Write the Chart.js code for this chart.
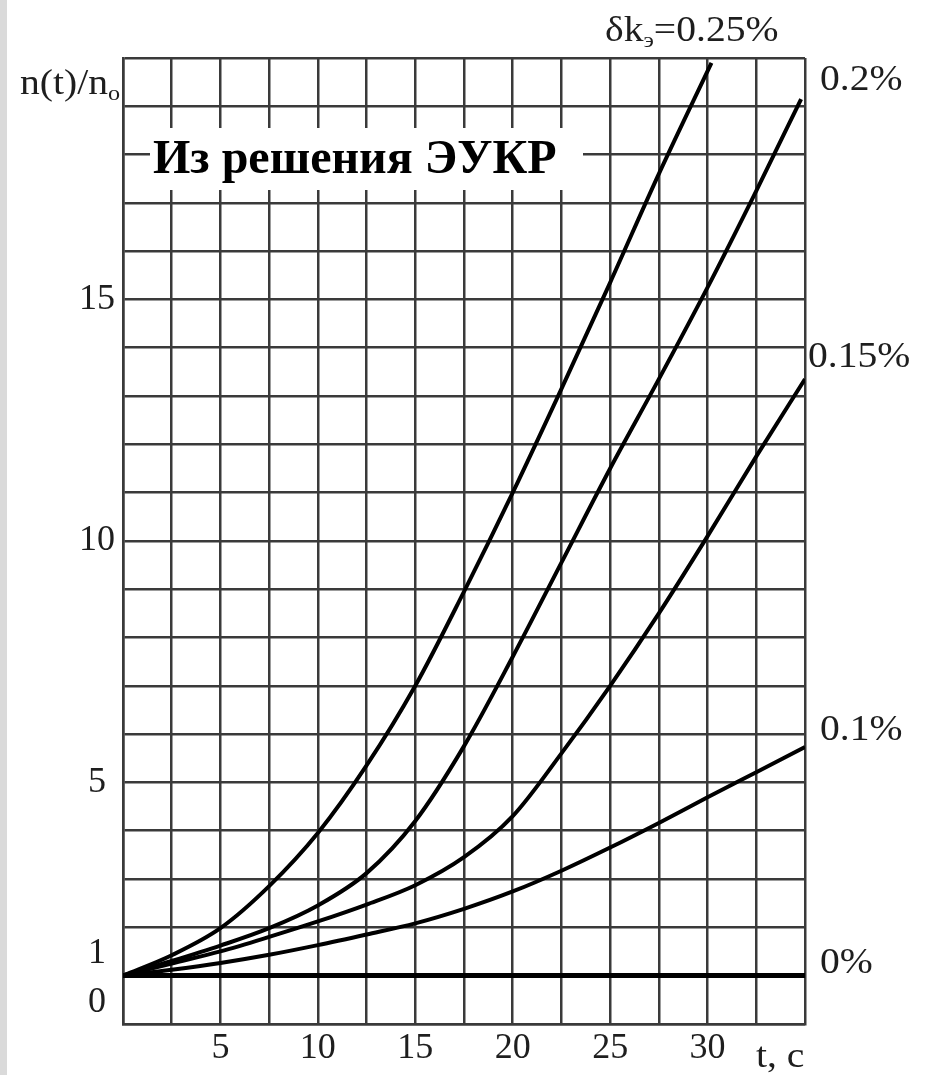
<!DOCTYPE html>
<html lang="ru">
<head>
<meta charset="utf-8">
<title>n(t)/n0</title>
<script src="https://cdn.jsdelivr.net/npm/chart.js@4.4.1/dist/chart.umd.min.js"></script>
<style>
    html, body { margin: 0; padding: 0; background: #fff; }
    #grafico { display: block; }
</style>
</head>
<body>
<canvas id="grafico" width="930" height="1075"></canvas>
<script>
// tempo, s
var tempoCompleto = [0, 2.5, 5, 7.5, 10, 12.5, 15, 17.5, 20, 22.5, 25, 27.5, 30, 32.5, 35];
var tempo025 = [0, 2.5, 5, 7.5, 10, 12.5, 15, 17.5, 20, 22.5, 25, 27.5, 30.2];
var tempo020 = [0, 2.5, 5, 7.5, 10, 12.5, 15, 17.5, 20, 22.5, 25, 27.5, 30, 32.5, 34.8];

// n(t)/n0 para cada degrau de reatividade
var n025 = [1, 1.42, 1.98, 2.85, 3.95, 5.35, 7.0, 8.95, 11.0, 13.15, 15.35, 17.6, 19.9];
var n020 = [1, 1.3, 1.62, 1.98, 2.45, 3.12, 4.2, 5.75, 7.6, 9.55, 11.5, 13.35, 15.25, 17.25, 19.15];
var n015 = [1, 1.25, 1.5, 1.8, 2.12, 2.47, 2.87, 3.45, 4.3, 5.6, 7.0, 8.5, 10.1, 11.75, 13.35];
var n010 = [1, 1.12, 1.26, 1.43, 1.63, 1.85, 2.08, 2.38, 2.74, 3.17, 3.65, 4.16, 4.69, 5.21, 5.73];
var n000 = [1, 1, 1, 1, 1, 1, 1, 1, 1, 1, 1, 1, 1, 1, 1];

var rotulosX = [5, 10, 15, 20, 25, 30];
var rotulosY = [0, 1, 5, 10, 15];

var fonteSerif = "'Liberation Serif', 'Times New Roman', serif";
var corTexto = "#1e1e1e";
var corGrade = "#3a3a3a";

function pontos(tempos, valores) {
    var lista = [];
    for (var i = 0; i < tempos.length; i++) {
        lista.push({ x: tempos[i], y: valores[i] });
    }
    return lista;
}

function curva(tempos, valores, espessura) {
    return {
        data: pontos(tempos, valores),
        borderColor: "#000",
        borderWidth: espessura,
        pointRadius: 0,
        fill: false,
        cubicInterpolationMode: "monotone"
    };
}

// texto com pedaços subscritos, levemente alargado como no original impresso
function textoComIndice(ctx, partes, x, y, tamanho) {
    ctx.save();
    ctx.translate(x, y);
    ctx.scale(1.1, 1);
    var cursor = 0;
    for (var i = 0; i < partes.length; i++) {
        var parte = partes[i];
        if (parte.sub) {
            ctx.font = Math.round(tamanho * 0.6) + "px " + fonteSerif;
            ctx.fillText(parte.texto, cursor, tamanho * 0.18);
        } else {
            ctx.font = tamanho + "px " + fonteSerif;
            ctx.fillText(parte.texto, cursor, 0);
        }
        cursor += ctx.measureText(parte.texto).width;
    }
    ctx.restore();
}

var anotacoes = {
    id: "anotacoes",
    beforeDraw: function (chart) {
        var ctx = chart.ctx;
        ctx.save();
        ctx.fillStyle = "#fff";
        ctx.fillRect(0, 0, chart.width, chart.height);
        ctx.fillStyle = "#dadada";
        ctx.fillRect(0, 0, 7, chart.height);
        ctx.restore();
    },
    afterDraw: function (chart) {
        var ctx = chart.ctx;
        var area = chart.chartArea;
        var esq = area.right + 15;
        ctx.save();
        ctx.textBaseline = "alphabetic";
        ctx.textAlign = "left";

        // caixa branca do título por cima da grade
        ctx.fillStyle = "#fff";
        ctx.fillRect(150, 128, 433, 62);
        ctx.fillStyle = "#000";
        ctx.font = "bold 48px " + fonteSerif;
        ctx.fillText("Из решения ЭУКР", 153, 173);

        ctx.fillStyle = corTexto;
        textoComIndice(ctx, [{ texto: "n(t)/n" }, { texto: "o", sub: true }], 20, 94, 36);
        textoComIndice(ctx, [{ texto: "δk" }, { texto: "э", sub: true }, { texto: "=0.25%" }], 605, 41, 36);
        textoComIndice(ctx, [{ texto: "0.2%" }], esq, 90, 36);
        textoComIndice(ctx, [{ texto: "0.15%" }], esq - 12, 367, 36);
        textoComIndice(ctx, [{ texto: "0.1%" }], esq, 740, 36);
        textoComIndice(ctx, [{ texto: "0%" }], esq, 973, 36);
        textoComIndice(ctx, [{ texto: "t, c" }], 756, 1067, 36);
        ctx.restore();
    }
};

var config = {
    type: "line",
    data: {
        datasets: [
            curva(tempo025, n025, 4),
            curva(tempo020, n020, 4),
            curva(tempoCompleto, n015, 4),
            curva(tempoCompleto, n010, 4),
            curva(tempoCompleto, n000, 5)
        ]
    },
    options: {
        responsive: false,
        animation: false,
        layout: { padding: { left: 0, right: 125, top: 58, bottom: 0 } },
        plugins: {
            legend: { display: false },
            tooltip: { enabled: false }
        },
        scales: {
            x: {
                type: "linear",
                min: 0,
                max: 35,
                afterFit: function (escala) { escala.height = 43; },
                grid: { color: corGrade, lineWidth: 2.5, drawTicks: false },
                border: { color: corGrade, width: 2.5 },
                ticks: {
                    stepSize: 2.5,
                    autoSkip: false,
                    maxRotation: 0,
                    padding: 3,
                    color: corTexto,
                    font: { family: fonteSerif, size: 36 },
                    callback: function (valor) {
                        return rotulosX.indexOf(valor) >= 0 ? String(valor) : "";
                    }
                }
            },
            y: {
                min: 0,
                max: 20,
                afterFit: function (escala) { escala.width = 123; },
                grid: { color: corGrade, lineWidth: 2.5, drawTicks: false },
                border: { color: corGrade, width: 2.5 },
                ticks: {
                    stepSize: 1,
                    autoSkip: false,
                    padding: 8,
                    crossAlign: "center",
                    color: corTexto,
                    font: { family: fonteSerif, size: 36 },
                    callback: function (valor) {
                        if (rotulosY.indexOf(valor) < 0) return "";
                        // 0 e 1 ficam acima da linha, como no eixo impresso
                        if (valor <= 1) return [String(valor), ""];
                        return String(valor);
                    }
                }
            }
        }
    },
    plugins: [anotacoes]
};

new Chart(document.getElementById("grafico"), config);
</script>
</body>
</html>
